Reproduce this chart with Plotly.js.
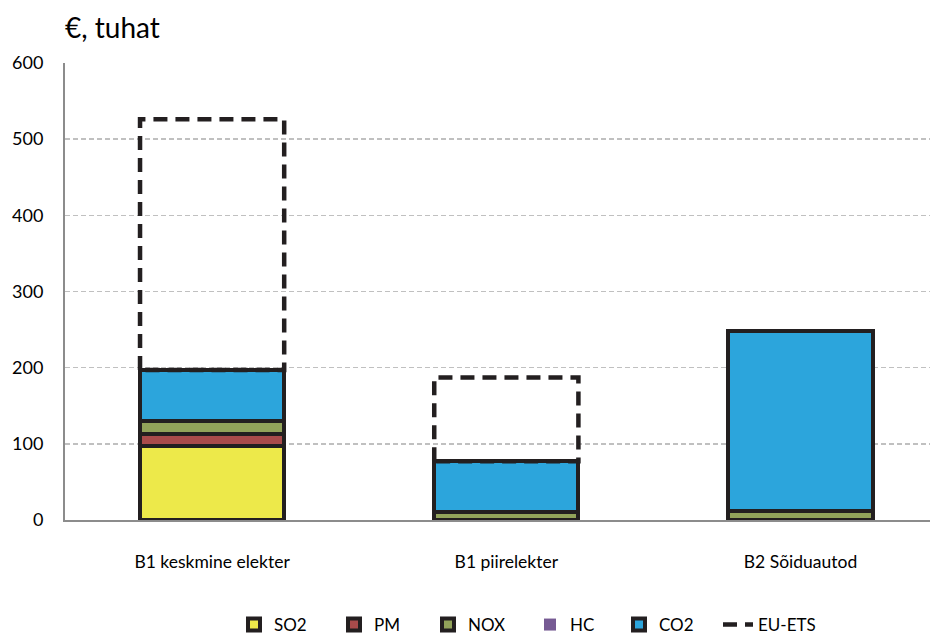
<!DOCTYPE html>
<html>
<head>
<meta charset="utf-8">
<script src="https://cdn.plot.ly/plotly-3.0.1.min.js"></script>
<style>html,body{margin:0;padding:0;background:#fff;}#chart{width:936px;height:634px;}</style>
</head>
<body>
<div id="chart"></div>
<script>
const categories = ["B1 keskmine elekter", "B1 piirelekter", "B2 Sõiduautod"];
const so2 = [97, 0, 0];
const pm = [16, 0, 0];
const nox = [17, 10, 12];
const hc = [0, 0, 0];
const co2 = [67, 67, 236];
const euEts = [329, 110, 0];
const yTicks = [0, 100, 200, 300, 400, 500, 600];

const xPos = categories.map((c, i) => i);
const barWidth = 0.49;
const font = "Lato, Open Sans, sans-serif";

function barTrace(name, vals, color, lw, leg) {
  return {
    type: "bar", name: name, x: xPos, y: vals, width: barWidth,
    marker: {color: color, line: {color: "#231f20", width: lw}},
    hoverinfo: "skip", legend: leg
  };
}

const traces = [
  barTrace("SO2", so2, "#ede94a", 4, "legend"),
  barTrace("PM", pm, "#a94b4b", 4, "legend2"),
  barTrace("NOX", nox, "#92a35a", 4, "legend3"),
  barTrace("HC", hc, "#765a93", 0, "legend4"),
  barTrace("CO2", co2, "#2ca5dc", 4, "legend5")
];

// EU-ETS dashed outline boxes, stacked above the other series
const ex = [], ey = [];
xPos.forEach((x, i) => {
  if (euEts[i] <= 0) return;
  const base = so2[i] + pm[i] + nox[i] + hc[i] + co2[i];
  const top = base + euEts[i];
  const l = x - barWidth / 2, r = x + barWidth / 2;
  ex.push(l, l, r, r, l, null);
  ey.push(base, top, top, base, base, null);
});
traces.push({
  type: "scatter", mode: "lines", name: "EU-ETS", x: ex, y: ey,
  line: {color: "#231f20", width: 4.5, dash: "14px,8px"},
  hoverinfo: "skip", connectgaps: false, legend: "legend6"
});

function leg(px) {
  return {
    orientation: "h", xref: "container", yref: "container",
    x: px / 936, xanchor: "left", y: 1 - 625 / 634, yanchor: "middle",
    font: {family: font, size: 17, color: "#000"}, bgcolor: "rgba(0,0,0,0)",
    itemwidth: 30
  };
}

const layout = {
  width: 936, height: 634,
  margin: {l: 65, r: 6, t: 63, b: 114},
  paper_bgcolor: "#fff", plot_bgcolor: "#fff",
  barmode: "stack",
  font: {family: font, size: 17, color: "#000"},
  title: {text: "€, tuhat", x: 65 / 936, xref: "container", xanchor: "left",
          y: 1 - 28 / 634, yref: "container", yanchor: "middle",
          font: {family: font, size: 28, color: "#000"}},
  xaxis: {
    range: [-0.5, 2.44], tickmode: "array", tickvals: xPos, ticktext: categories,
    showgrid: false, zeroline: false, showline: true, linecolor: "#8c8c8c", linewidth: 2,
    ticks: "", ticklabelstandoff: 25, tickfont: {family: font, size: 17.5}
  },
  yaxis: {
    range: [0, 600], tickmode: "array", tickvals: yTicks,
    showgrid: true, gridcolor: "#c0c0c0", griddash: "5px,3px", gridwidth: 1.5,
    zeroline: false, showline: true, linecolor: "#8c8c8c", linewidth: 2,
    ticks: "", ticklabelstandoff: 16, tickfont: {family: font, size: 18}
  },
  legend: leg(234),
  legend2: leg(334),
  legend3: leg(428),
  legend4: leg(530),
  legend5: leg(619),
  legend6: leg(718),
  showlegend: true
};

Plotly.newPlot("chart", traces, layout, {displayModeBar: false, staticPlot: true});
</script>
</body>
</html>
